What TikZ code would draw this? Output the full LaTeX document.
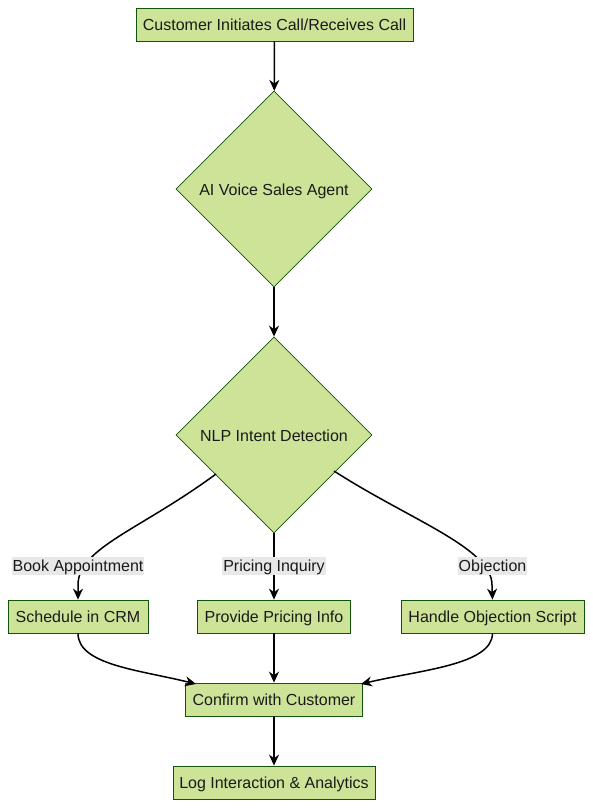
\documentclass[tikz,border=0pt]{standalone}
\usepackage{fontspec}
\setmainfont{Liberation Sans}
\usetikzlibrary{shapes.geometric,arrows.meta}
\definecolor{nfill}{HTML}{CDE498}
\definecolor{nstroke}{HTML}{13540C}
\definecolor{lblbg}{HTML}{E8E8E8}
\definecolor{txt}{HTML}{1A1A1A}
\tikzset{
  box/.style={draw=nstroke, fill=nfill, line width=0.8pt, inner sep=0pt, minimum height=33pt, text=txt, text height=14.5pt, text depth=2pt, font=\fontsize{16}{19}\selectfont},
  dia/.style={draw=nstroke, fill=nfill, line width=0.8pt, diamond, inner sep=0pt, minimum width=196pt, minimum height=196pt, text=txt, text height=14.5pt, text depth=2pt, font=\fontsize{16}{19}\selectfont},
  lbl/.style={fill=lblbg, inner sep=1pt, text=txt, text height=13.5pt, text depth=3pt, font=\fontsize{16}{19}\selectfont},
  conn/.style={draw=black, line width=1.5pt, -{Stealth[length=11pt,width=10pt]}},
  plain/.style={draw=black, line width=1.5pt}
}
\begin{document}
\begin{tikzpicture}[x=1pt,y=-1pt]
\useasboundingbox[fill=white] (0,0) rectangle (593,808);
\node[box, minimum width=277pt] (start) at (274.5,24.5) {Customer Initiates Call/Receives Call};
\node[dia] (agent) at (274,189) {AI Voice Sales Agent};
\node[dia] (nlp) at (274,435) {NLP Intent Detection};
\node[box, minimum width=140pt] (crm) at (78,616.5) {Schedule in CRM};
\node[box, minimum width=153pt] (price) at (274,616.5) {Provide Pricing Info};
\node[box, minimum width=183pt] (obj) at (492.5,616.5) {Handle Objection Script};
\node[box, minimum width=177pt] (confirm) at (274,699.5) {Confirm with Customer};
\node[box, minimum width=202pt] (log) at (274,782.5) {Log Interaction \& Analytics};

\draw[conn] (start) -- (agent);
\draw[conn] (agent) -- (nlp);
\coordinate (l1) at (216,474);
\coordinate (r1) at (334,471);
\draw[conn] (l1) .. controls (140,530) and (78,548) .. (78,585) -- (crm.north);
\draw[conn] (nlp.south) -- (price.north);
\draw[conn] (r1) .. controls (410,520) and (492,548) .. (492,585) -- (obj.north);
\node[lbl] (lb1) at (78,566) {Book Appointment};
\node[lbl] (lb2) at (274,566) {Pricing Inquiry};
\node[lbl] (lb3) at (492.5,566) {Objection};
\coordinate (c1) at (196,684);
\coordinate (c2) at (361,684);
\draw[conn] (crm.south) .. controls (78,665) and (140,670) .. (c1);
\draw[conn] (price.south) -- (confirm.north);
\draw[conn] (obj.south) .. controls (492,665) and (420,670) .. (c2);
\draw[conn] (confirm) -- (log);
\end{tikzpicture}
\end{document}
